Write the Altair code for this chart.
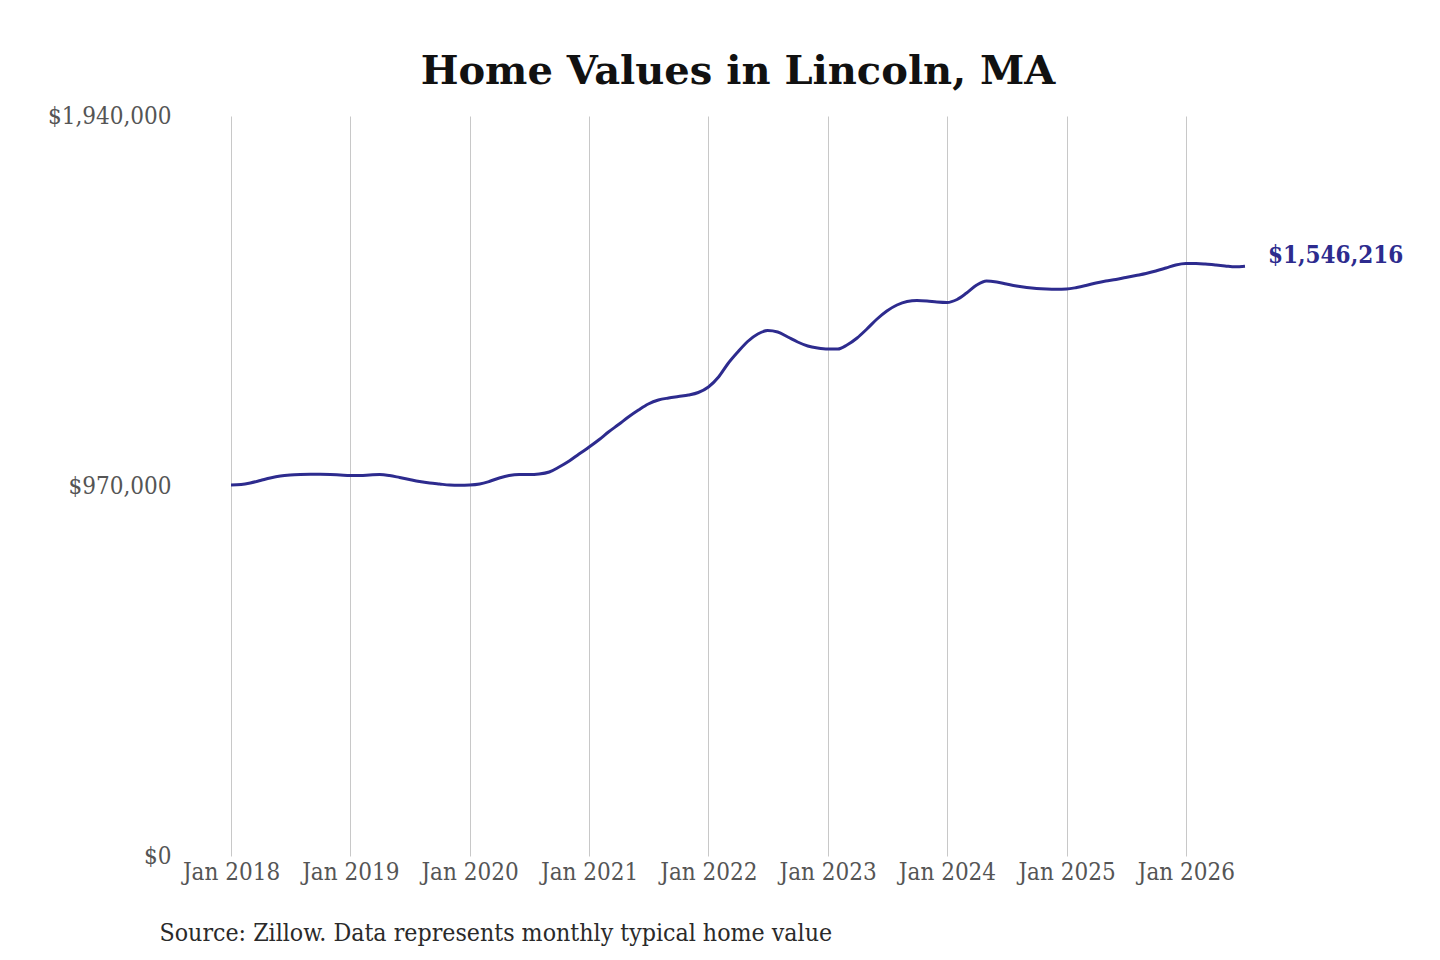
import altair as alt
import pandas as pd

start_year = 2018
values = [
    # 2018
    972600, 973900, 977900, 984400, 991000, 996200, 998800, 1000100, 1000700, 1000700, 1000100, 998800,
    # 2019
    997500, 997500, 998800, 1000100, 997500, 992300, 987000, 981800, 977900, 975200, 972600, 972100,
    # 2020
    972600, 975200, 981800, 991000, 997500, 1000100, 1000100, 1001500, 1006700, 1019800, 1035500, 1053900,
    # 2021
    1072200, 1091900, 1111600, 1131200, 1150900, 1169200, 1185000, 1195400, 1200700, 1204600, 1208600, 1215100,
    # 2022
    1229500, 1255700, 1289800, 1321300, 1348800, 1368500, 1377600, 1373700, 1360600, 1347500, 1337000, 1331800,
    # 2023
    1329100, 1329100, 1339600, 1358000, 1381600, 1407800, 1428800, 1444500, 1453700, 1456300, 1455000, 1452400,
    # 2024
    1451100, 1458900, 1475900, 1496900, 1507400, 1504800, 1499500, 1494300, 1490400, 1487800, 1486400, 1485900,
    # 2025
    1486400, 1490400, 1495600, 1502200, 1507400, 1511300, 1516600, 1521800, 1527100, 1533600, 1541500, 1549400,
    # 2026
    1553300, 1553300, 1552000, 1549400, 1547000, 1544800, 1546216,
]
dates = [f"{start_year + i // 12}-{i % 12 + 1:02d}-01T00:00:00" for i in range(len(values))]
tick_years = list(range(2018, 2027))
y_ticks = [0, 970000, 1940000]

df = pd.DataFrame({"date": dates, "value": values})
last = df.tail(1).copy()
last["label"] = ["$1,546,216"]

FONT = "DejaVu Serif Condensed, DejaVu Serif"
NAVY = "#2d2b8e"

x_enc = alt.X(
    "date:T",
    scale=alt.Scale(domain=[alt.DateTime(year=2018, month=1, date=1),
                            alt.DateTime(year=2026, month=7, date=1)]),
    axis=alt.Axis(
        values=[alt.DateTime(year=y, month=1, date=1) for y in tick_years],
        format="%b %Y",
        grid=True,
        gridColor="#c8c8c8",
        gridWidth=1,
        ticks=False,
        domain=False,
        labelFont=FONT,
        labelFontSize=24,
        labelColor="#555555",
        labelPadding=4,
        labelOverlap=False,
        labelFlush=False,
        title="Source: Zillow. Data represents monthly typical home value",
        titleFont=FONT,
        titleFontSize=24.7,
        titleFontWeight="normal",
        titleColor="#2a2a2a",
        titleAlign="left",
        titleAnchor="start",
        titleX=-72,
        titleY=84,
        titleBaseline="alphabetic",
    ),
)

y_enc = alt.Y(
    "value:Q",
    scale=alt.Scale(domain=[0, 1940000], nice=False, zero=True),
    axis=alt.Axis(
        values=y_ticks,
        format="$,.0f",
        grid=False,
        ticks=False,
        domain=False,
        labelFont=FONT,
        labelFontSize=24,
        labelColor="#555555",
        labelPadding=60,
        title=None,
    ),
)

line = alt.Chart(df).mark_line(
    color=NAVY, strokeWidth=3, interpolate="monotone"
).encode(x=x_enc, y=y_enc)

label = alt.Chart(last).mark_text(
    align="left", baseline="middle", dx=23, dy=-10,
    font=FONT, fontSize=24, fontWeight="bold", color=NAVY
).encode(x="date:T", y="value:Q", text="label:N")

chart = alt.layer(line, label).properties(
    width=1014,
    height=740,
    background="white",
    padding={"left": 223, "top": 108, "right": 187, "bottom": 96},
    autosize=alt.AutoSizeParams(type="none"),
    title=alt.TitleParams(
        "Home Values in Lincoln, MA",
        font="DejaVu Serif",
        fontSize=40,
        fontWeight="bold",
        color="#111111",
        anchor="middle",
        baseline="alphabetic",
        offset=32,
        dy=52,
    ),
).configure_view(stroke="transparent", strokeWidth=0)

chart.save("out.html", embed_options={"renderer": "svg", "actions": False})
